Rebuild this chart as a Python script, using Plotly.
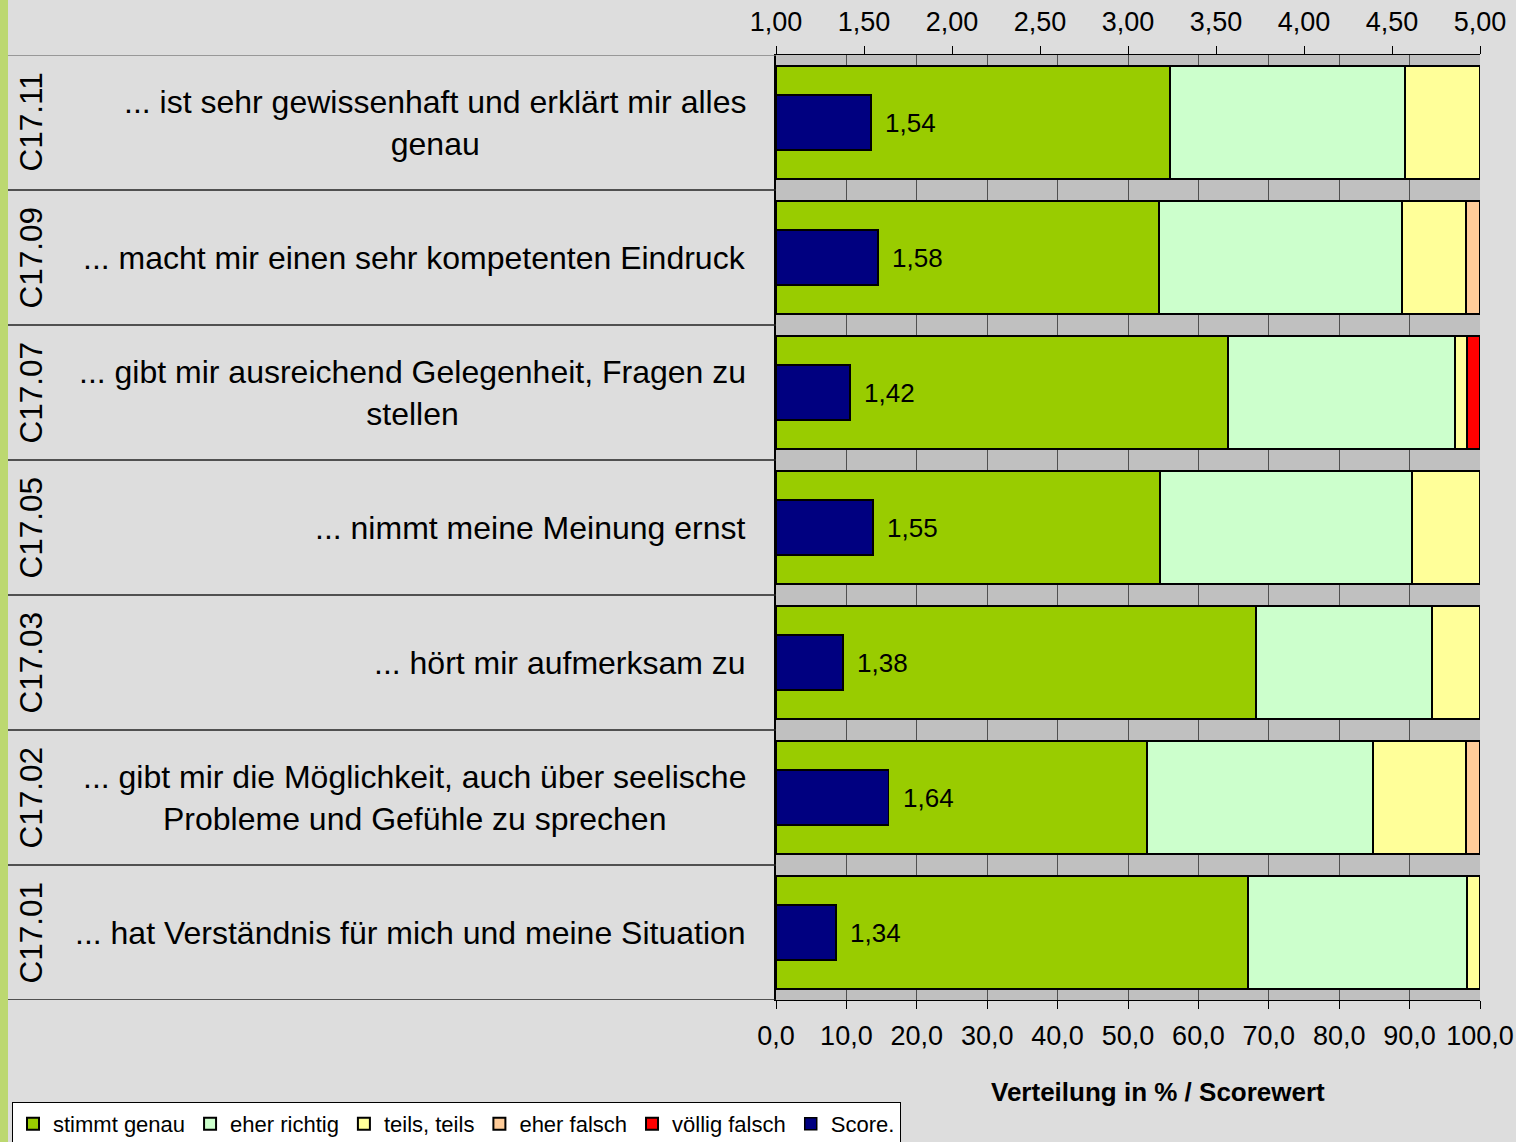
import plotly.graph_objects as go

# rows top to bottom
codes = ['C17.11', 'C17.09', 'C17.07', 'C17.05', 'C17.03', 'C17.02', 'C17.01']
items = [
    '... ist sehr gewissenhaft und erklärt mir alles<br>genau',
    '... macht mir einen sehr kompetenten Eindruck',
    '... gibt mir ausreichend Gelegenheit, Fragen zu<br>stellen',
    '... nimmt meine Meinung ernst',
    '... hört mir aufmerksam zu',
    '... gibt mir die Möglichkeit, auch über seelische<br>Probleme und Gefühle zu sprechen',
    '... hat Verständnis für mich und meine Situation',
]

stimmt_genau = [56.0, 54.4, 64.2, 54.5, 68.2, 52.7, 67.0]
eher_richtig = [33.4, 34.5, 32.2, 35.8, 25.0, 32.1, 31.2]
teils_teils = [10.6, 9.1, 1.8, 9.7, 6.8, 13.2, 1.8]
eher_falsch = [0.0, 2.0, 0.0, 0.0, 0.0, 2.0, 0.0]
voellig_falsch = [0.0, 0.0, 1.8, 0.0, 0.0, 0.0, 0.0]
scores = [1.54, 1.58, 1.42, 1.55, 1.38, 1.64, 1.34]

FONT = 'Liberation Sans, Arial, sans-serif'
L, R, T, B = 776, 36, 55, 142
W, H = 1516, 1142
PW = W - L - R
PH = H - T - B


def px_x(px):
    return (px - L) / PW


def px_y(py):
    return 1 - (py - T) / PH


fig = go.Figure()

series = [
    ('stimmt genau', stimmt_genau, '#99cc00'),
    ('eher richtig', eher_richtig, '#ccffcc'),
    ('teils, teils', teils_teils, '#ffff99'),
    ('eher falsch', eher_falsch, '#ffcc99'),
    ('völlig falsch', voellig_falsch, '#ff0000'),
]
for name, vals, col in series:
    fig.add_trace(go.Bar(
        y=codes, x=vals, name=name, orientation='h', width=0.83,
        marker=dict(color=col, line=dict(color='black', width=2)),
    ))

fig.add_trace(go.Bar(
    y=codes, x=[s - 1 for s in scores], base=1, name='Score.', orientation='h',
    width=0.41, xaxis='x2',
    marker=dict(color='#000080', line=dict(color='black', width=1.5)),
))

annotations = []
for i, (c, it, s) in enumerate(zip(codes, items, scores)):
    annotations.append(dict(
        xref='paper', yref='y', x=px_x(748), y=i, text=it, showarrow=False,
        xanchor='right', yanchor='middle', align='center',
        font=dict(size=32, color='black', family=FONT)))
    annotations.append(dict(
        xref='paper', yref='y', x=px_x(30), y=i, text=c, showarrow=False,
        textangle=-90, xanchor='center', yanchor='middle',
        font=dict(size=31.5, color='black', family=FONT)))
    annotations.append(dict(
        xref='x2', yref='y', x=s, y=i, text=f'{s:.2f}'.replace('.', ','),
        showarrow=False, xanchor='left', yanchor='middle', xshift=12,
        font=dict(size=26, color='black', family=FONT)))

annotations.append(dict(
    xref='paper', yref='paper', x=px_x(1158), y=px_y(1092),
    text='<b>Verteilung in % / Scorewert</b>', showarrow=False,
    xanchor='center', yanchor='middle',
    font=dict(size=26, color='black', family=FONT)))

shapes = [dict(type='rect', xref='paper', yref='paper',
               x0=px_x(0), x1=px_x(8), y0=px_y(H), y1=px_y(0),
               fillcolor='#bcd870', line=dict(width=0))]
for k in range(len(codes) + 1):
    shapes.append(dict(type='line', xref='paper', yref='y',
                       x0=px_x(8), x1=0, y0=k - 0.5, y1=k - 0.5,
                       line=dict(color='#808080' if k == 0 else '#202020', width=1.5)))

fig.update_layout(
    width=W, height=H,
    margin=dict(l=L, r=R, t=T, b=B, autoexpand=False),
    paper_bgcolor='#dddddd', plot_bgcolor='#c0c0c0',
    barmode='stack', separators=',.',
    font=dict(family=FONT, color='black'),
    showlegend=True,
    legend=dict(orientation='h', x=px_x(12), y=px_y(1102), xanchor='left', yanchor='top',
                bgcolor='white', bordercolor='black', borderwidth=1,
                font=dict(size=22, color='black', family=FONT),
                traceorder='normal', itemwidth=30),
    xaxis=dict(range=[0, 100], dtick=10, tickformat='.1f', showgrid=True,
               gridcolor='#505050', gridwidth=1, zeroline=False,
               ticks='outside', ticklen=8, tickcolor='black', ticklabelstandoff=4,
               showline=True, linecolor='black', linewidth=1,
               tickfont=dict(size=27, color='black', family=FONT)),
    xaxis2=dict(range=[1, 5], dtick=0.5, tick0=1, tickformat='.2f', overlaying='x',
                side='top', showgrid=False, zeroline=False,
                ticks='outside', ticklen=8, tickcolor='black', ticklabelstandoff=4,
                showline=True, linecolor='black', linewidth=1,
                tickfont=dict(size=27, color='black', family=FONT)),
    yaxis=dict(range=[6.5, -0.5], showticklabels=False, showgrid=False,
               zeroline=False, showline=True, linecolor='black', linewidth=2),
    annotations=annotations, shapes=shapes,
)

fig.write_html('out.html', config={'displayModeBar': False},
               post_script="document.body.style.margin='0';")
